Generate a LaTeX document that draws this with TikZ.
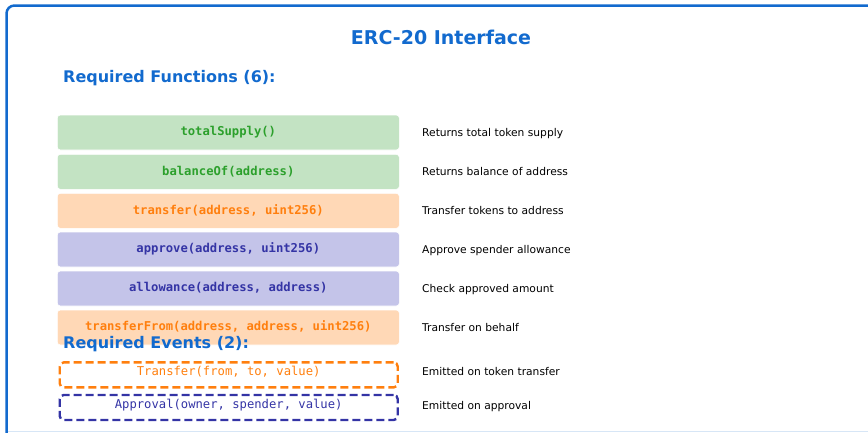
\documentclass[tikz,border=0pt]{standalone}
\usepackage{fontspec}
\setmainfont{DejaVu Sans}
\newfontfamily\codefont{DejaVu Sans Mono}
\definecolor{ercblue}{RGB}{18,106,206}
\definecolor{edgeblue}{RGB}{215,230,246}
\definecolor{getfill}{RGB}{195,227,195}
\definecolor{gettext}{RGB}{44,160,44}
\definecolor{movefill}{RGB}{255,216,182}
\definecolor{movetext}{RGB}{255,127,14}
\definecolor{allowfill}{RGB}{196,196,233}
\definecolor{allowtext}{RGB}{52,52,165}
\begin{document}
\begin{tikzpicture}
        [x=1pt, y=-1pt,
        frame/.style={draw=ercblue, line width=2.5pt, rounded corners=8pt},
        title/.style={anchor=base, inner sep=0pt, text=ercblue, font=\bfseries\fontsize{19}{23}\selectfont},
        heading/.style={anchor=base west, inner sep=0pt, text=ercblue, font=\bfseries\fontsize{16}{19}\selectfont},
        fn/.style={rectangle, rounded corners=3pt, draw=white, line width=0.6pt,
            minimum width=342pt, minimum height=35pt, inner sep=0pt,
            text height=9pt, text depth=2.5pt,
            font=\codefont\bfseries\fontsize{12.2}{14}\selectfont},
        ev/.style={rectangle, rounded corners=4pt, line width=2.4pt,
            dash pattern=on 8pt off 4pt, minimum width=338pt, minimum height=25pt,
            inner sep=0pt, text height=9pt, text depth=7pt,
            font=\codefont\fontsize{12.2}{14}\selectfont},
        desc/.style={anchor=base west, inner sep=0pt, font=\fontsize{10.7}{13}\selectfont}]
        \useasboundingbox (0,0) rectangle (868,432);
        \clip (0,0) rectangle (868,432);
        \draw[edgeblue, line width=1.2pt] (8,431.4) -- (868,431.4);
        \draw[frame] (6.5,5.5) rectangle (900,460);
        \node[title] (head) at (441,44.5) {ERC-20 Interface};
        \node[heading] (fns) at (63,82) {Required Functions (6):};
        \node[fn, fill=getfill, text=gettext] (supply) at (228.3,132.5) {totalSupply()};
        \node[fn, fill=getfill, text=gettext] (balance) at (228.3,171.8) {balanceOf(address)};
        \node[fn, fill=movefill, text=movetext] (transfer) at (228.3,210.8) {transfer(address, uint256)};
        \node[fn, fill=allowfill, text=allowtext] (approve) at (228.3,249.5) {approve(address, uint256)};
        \node[fn, fill=allowfill, text=allowtext] (allowance) at (228.3,288.5) {allowance(address, address)};
        \node[fn, fill=movefill, text=movetext] (transferfrom) at (228.3,327.5) {transferFrom(address, address, uint256)};
        \node[desc] (supplytxt) at (422,136.5) {Returns total token supply};
        \node[desc] (balancetxt) at (422,175.8) {Returns balance of address};
        \node[desc] (transfertxt) at (422,214.8) {Transfer tokens to address};
        \node[desc] (approvetxt) at (422,253.5) {Approve spender allowance};
        \node[desc] (allowancetxt) at (422,292.5) {Check approved amount};
        \node[desc] (transferfromtxt) at (422,331.5) {Transfer on behalf};
        \node[heading] (evs) at (63,348.3) {Required Events (2):};
        \node[ev, draw=movetext, text=movetext] (transferev) at (228.7,374.9) {Transfer(from, to, value)};
        \node[ev, draw=allowtext, text=allowtext] (approvalev) at (228.7,407.5) {Approval(owner, spender, value)};
        \node[desc] (transferevtxt) at (422,375.5) {Emitted on token transfer};
        \node[desc] (approvalevtxt) at (422,409.3) {Emitted on approval};
    \end{tikzpicture}
\end{document}
